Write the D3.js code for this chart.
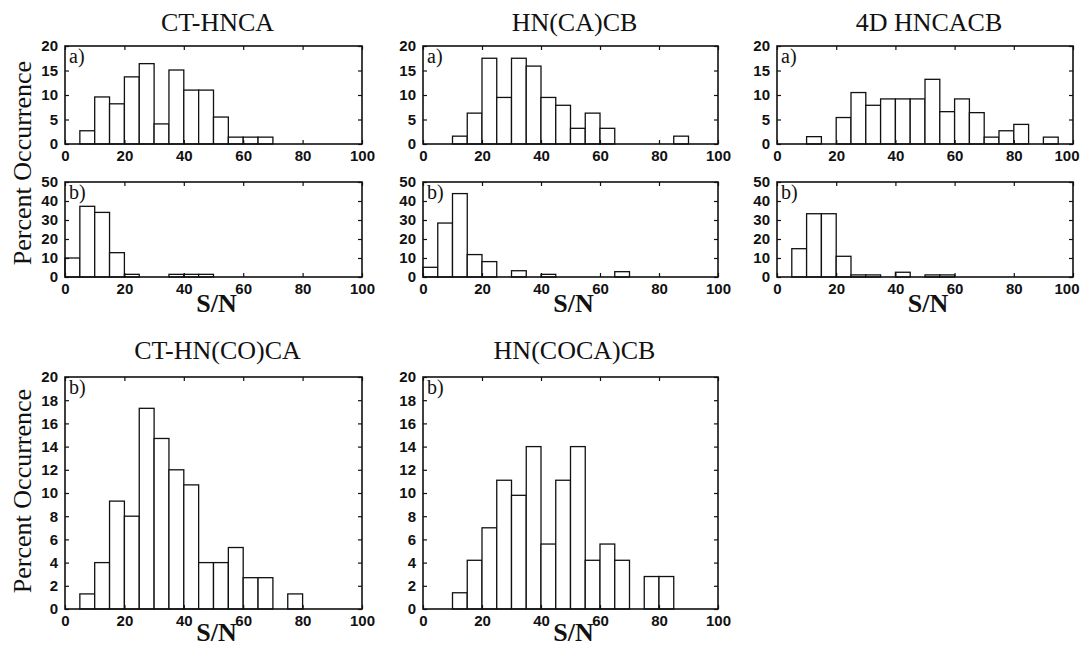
<!DOCTYPE html>
<html lang="en">
<head>
<meta charset="utf-8">
<title>S/N histograms</title>
<script src="https://d3js.org/d3.v7.min.js"></script>
<style>
  html, body { margin: 0; padding: 0; background: #fff; }
  svg { display: block; }
  .tick-label { font-family: "Liberation Sans", Arial, sans-serif; font-weight: bold; font-size: 15px; fill: #111; }
  .serif { font-family: "Liberation Serif", "Times New Roman", serif; fill: #111; }
</style>
</head>
<body>
<svg width="1081" height="648"></svg>
<script>
// bin start values (S/N), bin width 5
const binStarts = [0, 5, 10, 15, 20, 25, 30, 35, 40, 45, 50, 55, 60, 65, 70, 75, 80, 85, 90, 95];
const xTicks = [0, 20, 40, 60, 80, 100];
const yTicksA = [0, 5, 10, 15, 20];
const yTicksB = [0, 10, 20, 30, 40, 50];
const yTicksBig = [0, 2, 4, 6, 8, 10, 12, 14, 16, 18, 20];

// percent occurrence per bin
const ctHncaA     = [0, 2.7, 9.6, 8.2, 13.7, 16.4, 4.1, 15.1, 11.0, 11.0, 5.5, 1.4, 1.4, 1.4, 0, 0, 0, 0, 0, 0];
const ctHncaB     = [10.0, 37.2, 34.0, 12.8, 1.4, 0, 0, 1.4, 1.4, 1.4, 0, 0, 0, 0, 0, 0, 0, 0, 0, 0];
const hnCaCbA     = [0, 0, 1.6, 6.3, 17.5, 9.5, 17.5, 15.9, 9.5, 7.9, 3.2, 6.3, 3.2, 0, 0, 0, 0, 1.6, 0, 0];
const hnCaCbB     = [5.1, 28.4, 43.9, 11.8, 8.1, 0, 3.3, 0, 1.4, 0, 0, 0, 0, 2.8, 0, 0, 0, 0, 0, 0];
const hncacb4dA   = [0, 0, 1.5, 0, 5.4, 10.5, 7.9, 9.2, 9.2, 9.2, 13.2, 6.6, 9.2, 6.4, 1.4, 2.7, 4.0, 0, 1.4, 0];
const hncacb4dB   = [0, 14.9, 33.3, 33.3, 10.9, 1.1, 1.1, 0, 2.5, 0, 1.1, 1.1, 0, 0, 0, 0, 0, 0, 0, 0];
const ctHnCoCaB   = [0, 1.3, 4.0, 9.3, 8.0, 17.3, 14.7, 12.0, 10.7, 4.0, 4.0, 5.3, 2.7, 2.7, 0, 1.3, 0, 0, 0, 0];
const hnCoCaCbB   = [0, 0, 1.4, 4.2, 7.0, 11.1, 9.8, 14.0, 5.6, 11.1, 14.0, 4.2, 5.6, 4.2, 0, 2.8, 2.8, 0, 0, 0];

const titles = ["CT-HNCA", "HN(CA)CB", "4D HNCACB", "CT-HN(CO)CA", "HN(COCA)CB"];

const W = 1081;
const svg = d3.select("svg");
const binW = 5;

// column / row geometry
const cols = [[65, 362], [423, 718], [777, 1073]];
const rowA = [46, 144], rowB = [182, 277], rowBig = [377, 609];

function panel(col, row, values, yMax, yTicks, tag) {
  const x = d3.scaleLinear().domain([0, 100]).range(col);
  const y = d3.scaleLinear().domain([0, yMax]).range([row[1], row[0]]);
  const g = svg.append("g");

  const bins = binStarts.map((b, i) => ({ x0: b, v: values[i] })).filter(d => d.v > 0);
  g.selectAll("rect.bar")
    .data(bins)
    .enter().append("rect")
    .attr("class", "bar")
    .attr("x", d => x(d.x0))
    .attr("y", d => y(d.v))
    .attr("width", d => x(d.x0 + binW) - x(d.x0))
    .attr("height", d => y(0) - y(d.v))
    .attr("fill", "#fff")
    .attr("stroke", "#111")
    .attr("stroke-width", 1.3);

  // inward ticks on all four sides
  const tl = 4;
  g.append("g").attr("transform", `translate(0,${row[1]})`)
    .call(d3.axisBottom(x).tickValues(xTicks).tickSizeInner(-tl).tickSizeOuter(0).tickPadding(6))
    .call(a => a.select(".domain").remove())
    .call(a => a.selectAll("text").attr("class", "tick-label").attr("dy", "0.72em"))
    .call(a => a.selectAll("text").each(function (d) {
      // keep the right-most label inside the window
      const right = x(d) + this.getComputedTextLength() / 2;
      if (right > W - 2) d3.select(this).attr("x", W - 2 - right);
    }));
  g.append("g").attr("transform", `translate(0,${row[0]})`)
    .call(d3.axisTop(x).tickValues(xTicks).tickSizeInner(-tl).tickSizeOuter(0).tickFormat(""))
    .call(a => a.select(".domain").remove());
  g.append("g").attr("transform", `translate(${col[0]},0)`)
    .call(d3.axisLeft(y).tickValues(yTicks).tickSizeInner(-tl).tickSizeOuter(0).tickPadding(7))
    .call(a => a.select(".domain").remove())
    .call(a => a.selectAll("text").attr("class", "tick-label"));
  g.append("g").attr("transform", `translate(${col[1]},0)`)
    .call(d3.axisRight(y).tickValues(yTicks).tickSizeInner(-tl).tickSizeOuter(0).tickFormat(""))
    .call(a => a.select(".domain").remove());
  g.selectAll(".tick line").attr("stroke", "#111").attr("stroke-width", 1.2);
  g.selectAll(".tick text").attr("fill", "#111");

  g.append("rect")
    .attr("x", col[0]).attr("y", row[0])
    .attr("width", col[1] - col[0]).attr("height", row[1] - row[0])
    .attr("fill", "none").attr("stroke", "#111").attr("stroke-width", 1.6);

  g.append("text").attr("class", "serif")
    .attr("x", col[0] + 4).attr("y", row[0] + 17)
    .style("font-size", "20px")
    .text(tag);
}

panel(cols[0], rowA, ctHncaA, 20, yTicksA, "a)");
panel(cols[1], rowA, hnCaCbA, 20, yTicksA, "a)");
panel(cols[2], rowA, hncacb4dA, 20, yTicksA, "a)");
panel(cols[0], rowB, ctHncaB, 50, yTicksB, "b)");
panel(cols[1], rowB, hnCaCbB, 50, yTicksB, "b)");
panel(cols[2], rowB, hncacb4dB, 50, yTicksB, "b)");
panel(cols[0], rowBig, ctHnCoCaB, 20, yTicksBig, "b)");
panel(cols[1], rowBig, hnCoCaCbB, 20, yTicksBig, "b)");

// titles
const titlePos = [[cols[0], 31], [cols[1], 31], [cols[2], 31], [cols[0], 359], [cols[1], 359]];
titlePos.forEach((p, i) => {
  svg.append("text").attr("class", "serif")
    .attr("x", (p[0][0] + p[0][1]) / 2 + 4).attr("y", p[1])
    .attr("text-anchor", "middle")
    .style("font-size", "26px")
    .text(titles[i]);
});

// S/N axis titles
[[cols[0], 312], [cols[1], 312], [cols[2], 312], [cols[0], 641], [cols[1], 641]].forEach(p => {
  svg.append("text").attr("class", "serif")
    .attr("x", (p[0][0] + p[0][1]) / 2 + 3).attr("y", p[1])
    .attr("text-anchor", "middle")
    .style("font-size", "26px").style("font-weight", "bold")
    .text("S/N");
});

// y axis titles
[163, 491].forEach(cy => {
  svg.append("text").attr("class", "serif")
    .attr("transform", `translate(31,${cy}) rotate(-90)`)
    .attr("text-anchor", "middle")
    .style("font-size", "26px")
    .text("Percent Occurrence");
});
</script>
</body>
</html>
